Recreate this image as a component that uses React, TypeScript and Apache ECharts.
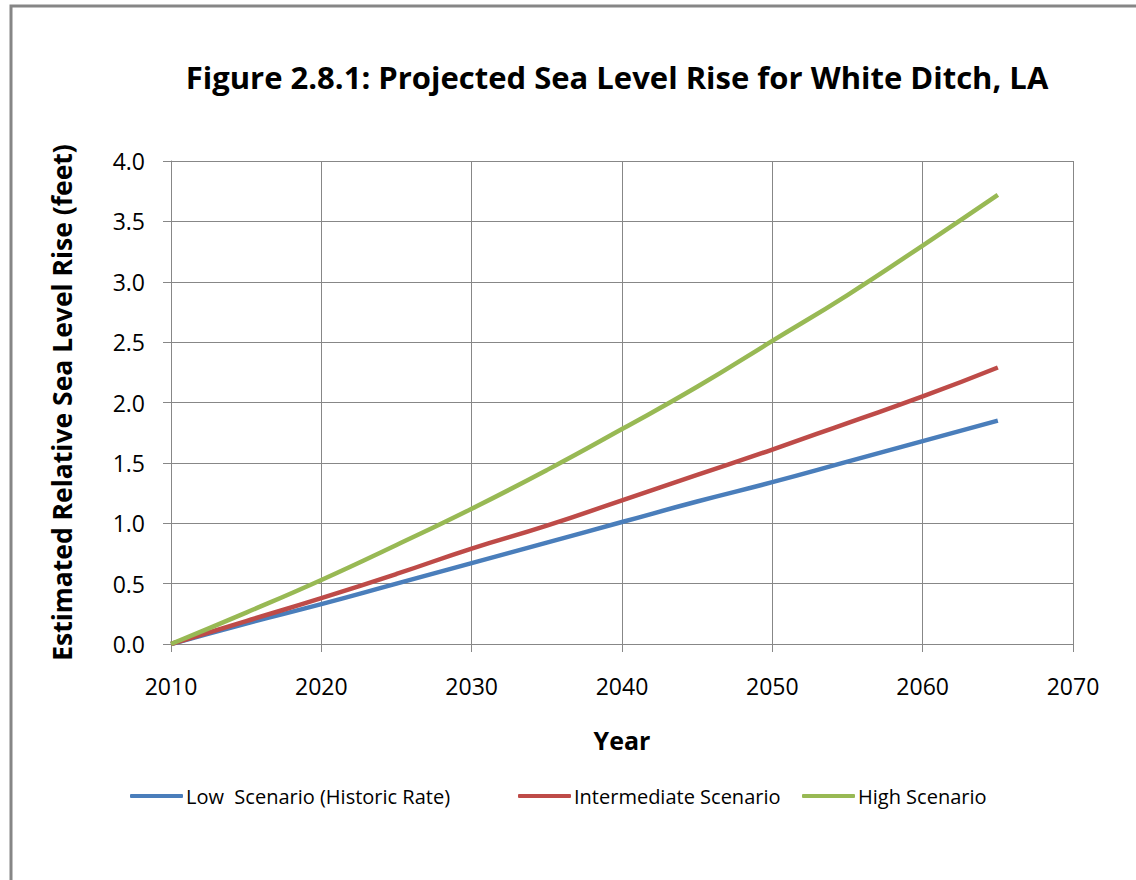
import React, { useEffect, useRef } from "react";
import * as echarts from "echarts";

const years = [2010, 2015, 2020, 2025, 2030, 2035, 2040, 2045, 2050, 2055, 2060, 2065];
const lowScenario = [0, 0.17, 0.33, 0.5, 0.67, 0.84, 1.01, 1.18, 1.34, 1.51, 1.68, 1.85];
const intermediateScenario = [0, 0.19, 0.38, 0.58, 0.79, 0.98, 1.19, 1.4, 1.61, 1.83, 2.05, 2.29];
const highScenario = [0, 0.26, 0.53, 0.82, 1.12, 1.44, 1.78, 2.13, 2.51, 2.89, 3.3, 3.72];
const seriesNames = ["Low  Scenario (Historic Rate)", "Intermediate Scenario", "High Scenario"];
const colors = ["#4A7EBB", "#BE4B48", "#98B954"];
const legendLefts = [130, 518, 802];

const FONT = "'Open Sans', sans-serif";

export default function App() {
  const ref = useRef<HTMLDivElement>(null);
  useEffect(() => {
    if (!ref.current) return;
    const chart = echarts.init(ref.current, null, { renderer: "svg" });
    const allData = [lowScenario, intermediateScenario, highScenario];
    chart.setOption({
      animation: false,
      backgroundColor: "#ffffff",
      graphic: [
        {
          type: "rect",
          shape: { x: 11, y: 6, width: 1300, height: 1000 },
          style: { fill: "none", stroke: "#868686", lineWidth: 3 },
          silent: true,
        },
      ],
      title: {
        text: "Figure 2.8.1: Projected Sea Level Rise for White Ditch, LA",
        left: 612,
        textAlign: "center",
        top: 56,
        textStyle: { fontFamily: FONT, fontWeight: "bold", fontSize: 31, color: "#000" },
      },
      legend: seriesNames.map((name, i) => ({
        left: legendLefts[i],
        top: 786,
        padding: 0,
        icon: "roundRect",
        itemWidth: 53,
        itemHeight: 4,
        textStyle: { fontFamily: FONT, fontSize: 20, color: "#000", padding: [0, 0, 0, -2] },
        data: [name],
      })),
      grid: { left: 171, right: 63, top: 161, bottom: 236, containLabel: false },
      xAxis: {
        type: "value",
        min: 2010,
        max: 2070,
        interval: 10,
        name: "Year",
        nameLocation: "middle",
        nameGap: 83,
        nameTextStyle: { fontFamily: FONT, fontWeight: "bold", fontSize: 25, color: "#000" },
        axisLine: { show: true, lineStyle: { color: "#878787", width: 1 } },
        axisTick: { show: true, length: 8, inside: false, lineStyle: { color: "#878787" } },
        axisLabel: {
          fontFamily: FONT,
          fontSize: 23,
          color: "#000",
          margin: 30,
          formatter: (v: number) => String(v),
        },
        splitLine: { show: true, lineStyle: { color: "#878787", width: 1 } },
      },
      yAxis: {
        type: "value",
        min: 0,
        max: 4,
        interval: 0.5,
        name: "Estimated Relative Sea Level Rise (feet)",
        nameLocation: "middle",
        nameGap: 96,
        nameTextStyle: { fontFamily: FONT, fontWeight: "bold", fontSize: 26.5, color: "#000" },
        axisLine: { show: true, lineStyle: { color: "#878787", width: 1 } },
        axisTick: { show: true, length: 8, inside: false, lineStyle: { color: "#878787" } },
        axisLabel: {
          fontFamily: FONT,
          fontSize: 23,
          color: "#000",
          margin: 26,
          formatter: (v: number) => v.toFixed(1),
        },
        splitLine: { show: true, lineStyle: { color: "#878787", width: 1 } },
      },
      series: seriesNames.map((name, i) => ({
        name,
        type: "line",
        data: years.map((y, j) => [y, allData[i][j]]),
        showSymbol: false,
        symbol: "none",
        smooth: true,
        lineStyle: { color: colors[i], width: 4.5 },
        itemStyle: { color: colors[i] },
      })),
    });
    return () => chart.dispose();
  }, []);
  return (
    <div
      ref={ref}
      style={{ position: "fixed", left: 0, top: 0, width: 1136, height: 880 }}
    />
  );
}
